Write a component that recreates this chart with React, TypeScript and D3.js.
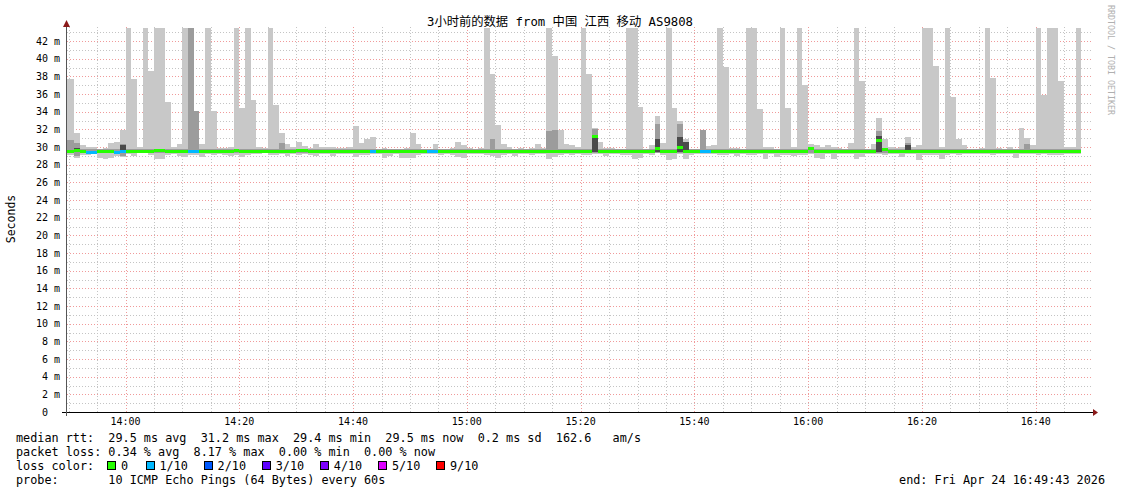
import * as d3 from "d3";

// ---- datos ----
const TITLE = "3小时前的数据 from 中国 江西 移动 AS9808";
const yTickValues = [0, 2, 4, 6, 8, 10, 12, 14, 16, 18, 20, 22, 24, 26, 28, 30, 32, 34, 36, 38, 40, 42];
const xTickLabels = ["14:00", "14:20", "14:40", "15:00", "15:20", "15:40", "16:00", "16:20", "16:40"];

// one bar per minute, starting 13:49 (50 = clipped at the top)
const maxRtt = [
  37.7, 37.7, 31.6, 30.2, 30.0, 30.0, 29.8, 29.9, 30.5, 30.6,
  31.9, 50, 37.7, 30.0, 50, 38.6, 50, 50, 35.1, 30.0,
  30.3, 50, 50, 34.1, 30.3, 50, 34.1, 29.9, 29.9, 30.0,
  50, 34.4, 50, 35.3, 30.0, 29.9, 50, 34.8, 31.6, 30.3,
  30.0, 30.6, 30.1, 29.9, 30.3, 30.0, 30.0, 30.0, 29.9, 29.9,
  30.0, 32.4, 30.5, 30.9, 31.1, 29.8, 29.9, 29.6, 29.6, 29.8,
  29.9, 31.6, 30.3, 29.7, 29.7, 30.3, 29.8, 29.7, 29.9, 30.6,
  30.2, 29.9, 29.8, 29.9, 50, 38.3, 32.5, 30.3, 30.0, 29.8,
  29.9, 29.8, 29.9, 30.3, 29.9, 50, 40.3, 31.9, 30.3, 30.2,
  30.0, 50, 38.3, 32.2, 30.6, 29.9, 29.9, 29.8, 29.8, 50,
  50, 34.5, 29.8, 30.2, 33.5, 30.5, 50, 34.4, 33.0, 30.9,
  29.8, 29.7, 31.9, 30.1, 30.2, 50, 39.1, 29.9, 29.9, 29.8,
  50, 50, 34.3, 30.0, 30.0, 29.8, 50, 34.4, 30.0, 50,
  37.0, 30.3, 30.2, 30.0, 30.2, 30.0, 29.9, 29.8, 30.5, 50,
  37.5, 29.8, 30.3, 33.3, 30.9, 30.0, 29.9, 30.0, 31.1, 30.0,
  30.2, 50, 50, 39.2, 30.0, 50, 35.7, 30.9, 30.2, 29.8,
  29.8, 29.9, 50, 37.8, 29.9, 29.7, 30.0, 29.8, 32.2, 31.0,
  30.2, 50, 35.9, 50, 50, 37.5, 30.0, 30.0, 50,
];

const minRtt = [
  29.1, 29.1, 28.8, 29.1, 29.1, 29.2, 28.8, 28.6, 28.8, 29.0,
  28.9, 29.2, 29.0, 29.3, 29.3, 29.1, 28.6, 28.6, 29.1, 29.2,
  29.0, 28.9, 29.1, 29.1, 28.9, 29.2, 29.1, 29.2, 29.1, 29.0,
  29.1, 28.9, 29.1, 29.2, 29.2, 29.3, 29.1, 29.1, 29.2, 29.0,
  29.2, 29.1, 29.2, 29.1, 29.0, 29.2, 29.2, 29.0, 29.2, 29.2,
  29.2, 28.9, 29.1, 29.1, 29.2, 29.2, 28.8, 29.0, 29.2, 28.8,
  28.8, 28.8, 29.1, 29.2, 29.2, 29.2, 29.1, 29.2, 29.1, 28.9,
  28.8, 29.2, 29.2, 29.2, 29.1, 29.0, 28.8, 29.1, 29.2, 29.0,
  29.2, 29.2, 29.1, 29.2, 29.2, 28.6, 28.9, 29.1, 29.2, 29.1,
  29.2, 29.1, 29.1, 29.2, 29.2, 29.0, 29.2, 29.2, 29.1, 29.1,
  28.6, 28.8, 29.2, 29.1, 29.3, 29.1, 28.5, 28.6, 29.2, 28.6,
  29.1, 29.2, 29.2, 29.2, 29.2, 29.1, 29.1, 29.2, 29.0, 29.2,
  29.1, 29.1, 29.2, 28.6, 29.2, 28.9, 29.1, 29.1, 29.0, 29.1,
  29.1, 29.2, 28.8, 28.6, 29.2, 28.7, 29.2, 29.2, 29.2, 28.6,
  28.9, 29.2, 29.2, 29.2, 29.1, 29.2, 29.2, 28.9, 29.2, 29.2,
  28.5, 29.1, 29.1, 29.1, 28.6, 29.1, 29.2, 29.1, 29.2, 29.2,
  29.2, 29.2, 29.2, 29.1, 29.2, 29.2, 29.2, 28.8, 29.2, 29.2,
  29.2, 29.1, 29.2, 29.1, 29.1, 29.1, 29.2, 29.2, 29.2,
];

const midHi = [
  30.8, 30.8, 30.5, 29.8, 29.8, 29.8, 29.8, 29.8, 29.8, 29.8,
  30.3, 29.8, 29.8, 29.8, 29.8, 29.8, 29.8, 29.8, 29.8, 29.8,
  29.8, 29.8, 50, 34.1, 29.8, 29.8, 29.8, 29.8, 29.8, 29.8,
  29.8, 29.8, 29.8, 29.8, 29.8, 29.8, 29.8, 29.8, 30.5, 29.8,
  29.8, 29.8, 29.8, 29.8, 29.8, 29.8, 29.8, 29.8, 29.8, 29.8,
  29.8, 29.8, 29.8, 29.8, 29.8, 29.8, 29.8, 29.8, 29.8, 29.8,
  29.8, 29.8, 29.8, 29.8, 29.8, 29.8, 29.8, 29.8, 29.8, 29.8,
  29.8, 29.8, 29.8, 29.8, 29.8, 30.9, 29.8, 29.8, 29.8, 29.8,
  29.8, 29.8, 29.8, 29.8, 29.8, 31.8, 31.9, 29.8, 29.8, 29.8,
  29.8, 29.8, 29.8, 32.0, 29.8, 29.8, 29.8, 29.8, 29.8, 29.8,
  29.8, 29.8, 29.8, 29.8, 32.6, 29.8, 29.8, 29.8, 32.6, 30.6,
  29.8, 29.8, 31.9, 29.8, 29.8, 29.8, 29.8, 29.8, 29.8, 29.8,
  29.8, 29.8, 29.8, 29.8, 29.8, 29.8, 29.8, 29.8, 29.8, 29.8,
  29.8, 29.8, 29.8, 29.8, 29.8, 29.8, 29.8, 29.8, 29.8, 29.8,
  29.8, 29.8, 29.8, 31.8, 29.8, 29.8, 29.8, 29.8, 30.5, 29.8,
  29.8, 29.8, 29.8, 29.8, 29.8, 29.8, 29.8, 29.8, 29.8, 29.8,
  29.8, 29.8, 29.8, 29.8, 29.8, 29.8, 29.8, 29.8, 29.8, 30.3,
  29.8, 29.8, 29.8, 29.8, 29.8, 29.8, 29.8, 29.8, 29.8,
];

const midLo = [
  29.3, 29.3, 29.0, 29.3, 29.3, 29.3, 29.3, 29.3, 29.3, 29.3,
  29.0, 29.3, 29.3, 29.3, 29.3, 29.3, 29.3, 29.3, 29.3, 29.3,
  29.3, 29.3, 29.3, 29.3, 29.3, 29.3, 29.3, 29.3, 29.3, 29.3,
  29.3, 29.3, 29.3, 29.3, 29.3, 29.3, 29.3, 29.3, 29.3, 29.3,
  29.3, 29.3, 29.3, 29.3, 29.3, 29.3, 29.3, 29.3, 29.3, 29.3,
  29.3, 29.3, 29.3, 29.3, 29.3, 29.3, 29.3, 29.3, 29.3, 29.3,
  29.3, 29.3, 29.3, 29.3, 29.3, 29.3, 29.3, 29.3, 29.3, 29.3,
  29.3, 29.3, 29.3, 29.3, 29.3, 29.3, 29.3, 29.3, 29.3, 29.3,
  29.3, 29.3, 29.3, 29.3, 29.3, 29.3, 29.3, 29.3, 29.3, 29.3,
  29.3, 29.3, 29.3, 29.3, 29.3, 29.3, 29.3, 29.3, 29.3, 29.3,
  29.3, 29.3, 29.3, 29.3, 29.3, 29.3, 29.3, 29.3, 29.3, 29.3,
  29.3, 29.3, 29.3, 29.3, 29.3, 29.3, 29.3, 29.3, 29.3, 29.3,
  29.3, 29.3, 29.3, 29.3, 29.3, 29.3, 29.3, 29.3, 29.3, 29.3,
  29.3, 29.3, 29.3, 29.3, 29.3, 29.3, 29.3, 29.3, 29.3, 29.3,
  29.3, 29.3, 29.3, 29.3, 29.3, 29.3, 29.3, 29.3, 29.3, 29.3,
  29.3, 29.3, 29.3, 29.3, 29.3, 29.3, 29.3, 29.3, 29.3, 29.3,
  29.3, 29.3, 29.3, 29.3, 29.3, 29.3, 29.3, 29.3, 29.3, 29.3,
  29.3, 29.3, 29.3, 29.3, 29.3, 29.3, 29.3, 29.3, 29.3,
];

const median = [
  29.5, 29.5, 29.6, 29.5, 29.4, 29.4, 29.5, 29.5, 29.5, 29.4,
  29.5, 29.5, 29.5, 29.5, 29.5, 29.5, 29.6, 29.6, 29.5, 29.5,
  29.5, 29.5, 29.5, 29.5, 29.5, 29.5, 29.5, 29.5, 29.5, 29.5,
  29.6, 29.5, 29.5, 29.5, 29.5, 29.5, 29.5, 29.5, 29.5, 29.5,
  29.5, 29.6, 29.6, 29.5, 29.5, 29.5, 29.5, 29.5, 29.5, 29.5,
  29.5, 29.5, 29.5, 29.5, 29.5, 29.5, 29.5, 29.5, 29.5, 29.5,
  29.5, 29.5, 29.5, 29.5, 29.5, 29.5, 29.5, 29.5, 29.5, 29.5,
  29.5, 29.5, 29.5, 29.5, 29.5, 29.5, 29.5, 29.5, 29.5, 29.5,
  29.5, 29.5, 29.5, 29.5, 29.5, 29.5, 29.5, 29.5, 29.5, 29.5,
  29.5, 29.5, 29.5, 31.2, 29.5, 29.5, 29.5, 29.5, 29.5, 29.5,
  29.5, 29.5, 29.5, 29.5, 29.8, 29.5, 29.5, 29.5, 29.9, 29.5,
  29.5, 29.5, 29.5, 29.5, 29.5, 29.5, 29.5, 29.5, 29.5, 29.5,
  29.5, 29.5, 29.5, 29.5, 29.5, 29.5, 29.5, 29.5, 29.5, 29.5,
  29.5, 29.8, 29.5, 29.5, 29.5, 29.5, 29.5, 29.5, 29.5, 29.5,
  29.5, 29.5, 29.5, 30.8, 29.7, 29.5, 29.5, 29.5, 29.5, 29.5,
  29.5, 29.5, 29.5, 29.5, 29.5, 29.5, 29.5, 29.5, 29.5, 29.5,
  29.5, 29.5, 29.5, 29.5, 29.5, 29.5, 29.5, 29.5, 29.5, 29.5,
  29.5, 29.5, 29.5, 29.5, 29.5, 29.5, 29.5, 29.5, 29.5,
];

// bars with 1/10 loss
const lossBars = [4, 5, 9, 10, 22, 23, 54, 64, 65, 112, 113];

// darkest smoke layer, only where it shows
const darkBars = [2, 10, 93, 104, 108, 109, 143, 148];
const darkLo = [29.4, 29.3, 29.4, 29.4, 29.4, 29.4, 29.4, 29.4];
const darkHi = [29.9, 30.2, 31.3, 30.9, 31.1, 30.6, 31.3, 30.2];

const lossLabels = ["0", "1/10", "2/10", "3/10", "4/10", "5/10", "9/10"];
const lossColors = ["#26ff00", "#00b8ff", "#0059ff", "#5e00ff", "#7e00ff", "#dd00ff", "#ff0000"];

const legendLines = [
  "median rtt:  29.5 ms avg  31.2 ms max  29.4 ms min  29.5 ms now  0.2 ms sd  162.6   am/s",
  "packet loss: 0.34 % avg  8.17 % max  0.00 % min  0.00 % now",
];
const lossTitle = "loss color:";
const probeLine = "probe:       10 ICMP Echo Pings (64 Bytes) every 60s";
const endLine = "end: Fri Apr 24 16:49:43 2026";
const watermark = "RRDTOOL / TOBI OETIKER";

const DAY = [2026, 3, 24] as const;
const t = (h: number, m: number, s = 0) => new Date(DAY[0], DAY[1], DAY[2], h, m, s);

export default function App() {
  const width = 1121;
  const height = 494;
  const plot = { left: 67, right: 1091, top: 27, bottom: 412 };
  const mono = "'DejaVu Sans Mono', monospace";

  const x = d3.scaleTime().domain([t(13, 49, 43), t(16, 49, 43)]).range([plot.left, plot.right]);
  const y = d3.scaleLinear().domain([0, 43.6]).range([plot.bottom, plot.top]);

  const barStart = (k: number) => x(d3.timeMinute.offset(t(13, 49), k));
  const barEnd = (k: number) => x(d3.timeMinute.offset(t(13, 49), k + 1));

  const minorY = d3.range(1, 44).filter((v) => v % 2 !== 0);
  const majorY = yTickValues.filter((v) => v > 0);
  const minorX = d3.timeMinute.every(5)!.range(t(13, 49, 43), t(16, 49, 43));
  const majorX = xTickLabels.map((s) => {
    const [h, m] = s.split(":").map(Number);
    return t(h, m);
  });

  const gridRight = 1093;
  const charW = 7.1;

  // loss legend positions
  let cursor = 16 + 13 * charW - 1;
  const lossItems = lossLabels.map((label, i) => {
    const boxX = cursor;
    const textX = boxX + 13.6;
    cursor = textX + label.length * 6.5 + 18.5;
    return { label, color: lossColors[i], boxX, textX };
  });

  return (
    <div style={{ position: "absolute", left: 0, top: 0 }}>
      <svg width={width} height={height} style={{ display: "block", background: "#fff" }}>
        <defs>
          <clipPath id="plot-clip">
            <rect x={plot.left} y={28} width={plot.right - plot.left} height={plot.bottom - 28} />
          </clipPath>
        </defs>

        {/* grid */}
        <g strokeWidth={1} shapeRendering="crispEdges">
          {minorY.map((v) => (
            <line key={`gy${v}`} x1={plot.left} x2={gridRight} y1={Math.round(y(v)) + 0.5} y2={Math.round(y(v)) + 0.5}
              stroke="#c4c4c4" strokeDasharray="1 2" />
          ))}
          {minorX.map((d) => (
            <line key={`gx${d.getTime()}`} x1={Math.round(x(d)) + 0.5} x2={Math.round(x(d)) + 0.5} y1={plot.bottom} y2={plot.top}
              stroke="#c4c4c4" strokeDasharray="1 2" />
          ))}
          {majorY.map((v) => (
            <line key={`my${v}`} x1={plot.left} x2={gridRight} y1={Math.round(y(v)) + 0.5} y2={Math.round(y(v)) + 0.5}
              stroke="#f09a9a" strokeDasharray="1 2" />
          ))}
          {majorX.map((d) => (
            <line key={`mx${d.getTime()}`} x1={Math.round(x(d)) + 0.5} x2={Math.round(x(d)) + 0.5} y1={plot.bottom} y2={plot.top}
              stroke="#f09a9a" strokeDasharray="1 2" />
          ))}
        </g>

        {/* smoke */}
        <g clipPath="url(#plot-clip)" shapeRendering="crispEdges">
          {maxRtt.map((v, k) => (
            <rect key={`l${k}`} x={barStart(k)} width={barEnd(k) - barStart(k)} y={y(v)} height={y(minRtt[k]) - y(v)} fill="#c8c8c8" />
          ))}
          {midHi.map((v, k) => (
            <rect key={`m${k}`} x={barStart(k)} width={barEnd(k) - barStart(k)} y={y(v)} height={y(midLo[k]) - y(v)} fill="#9c9c9c" />
          ))}
          {darkBars.map((k, i) => (
            <rect key={`d${k}`} x={barStart(k)} width={barEnd(k) - barStart(k)} y={y(darkHi[i])} height={y(darkLo[i]) - y(darkHi[i])} fill="#4a4a4a" />
          ))}
          {median.map((v, k) => (
            <rect key={`md${k}`} x={barStart(k)} width={barEnd(k) - barStart(k)} y={y(v) - 1.5} height={3}
              fill={lossBars.includes(k) ? lossColors[1] : lossColors[0]} />
          ))}
        </g>

        {/* axes */}
        <g shapeRendering="crispEdges">
          <line x1={62} x2={1094} y1={plot.bottom + 0.5} y2={plot.bottom + 0.5} stroke="#000" />
          <line x1={plot.left - 0.5} x2={plot.left - 0.5} y1={416} y2={22} stroke="#555" />
        </g>
        <path d="M1093,409 L1098,412.5 L1093,416 Z" fill="#8b1a1a" />
        <path d="M63,27 L66.5,20 L70,27 Z" fill="#8b1a1a" />

        {/* axis labels */}
        <g fontFamily={mono} fontSize={10} fill="#000">
          {yTickValues.map((v) => (
            <text key={`yl${v}`} x={v === 0 ? 48 : 60} y={y(v)} dy="0.35em" textAnchor="end">
              {v === 0 ? "0" : `${v} m`}
            </text>
          ))}
          {majorX.map((d, i) => (
            <text key={`xl${i}`} x={x(d)} y={425} textAnchor="middle">
              {xTickLabels[i]}
            </text>
          ))}
        </g>

        <text x={15} y={219} transform="rotate(-90 15 219)" textAnchor="middle" fontFamily={mono} fontSize={11.5} fill="#000">
          Seconds
        </text>

        <text x={560} y={26} textAnchor="middle" fontFamily="'DejaVu Sans Mono', 'Noto Sans CJK SC', monospace" fontSize={12.3} fill="#000">
          {TITLE}
        </text>

        <text x={1108} y={5} transform="rotate(90 1108 5)" fontFamily={mono} fontSize={8.3} fill="#b0b0b0">
          {watermark}
        </text>

        {/* legend */}
        <g fontFamily={mono} fontSize={11.8} fill="#000">
          {legendLines.map((line, i) => (
            <text key={`lg${i}`} x={16} y={442 + i * 14} xmlSpace="preserve" style={{ whiteSpace: "pre" }}>{line}</text>
          ))}
          <text x={16} y={470}>{lossTitle}</text>
          {lossItems.map((it) => (
            <g key={it.label}>
              <rect x={it.boxX + 0.5} y={461.5} width={8} height={8} fill={it.color} stroke="#000" shapeRendering="crispEdges" />
              <text x={it.textX} y={470}>{it.label}</text>
            </g>
          ))}
          <text x={16} y={484} xmlSpace="preserve" style={{ whiteSpace: "pre" }}>{probeLine}</text>
          <text x={1105} y={484} textAnchor="end">{endLine}</text>
        </g>
      </svg>
    </div>
  );
}
